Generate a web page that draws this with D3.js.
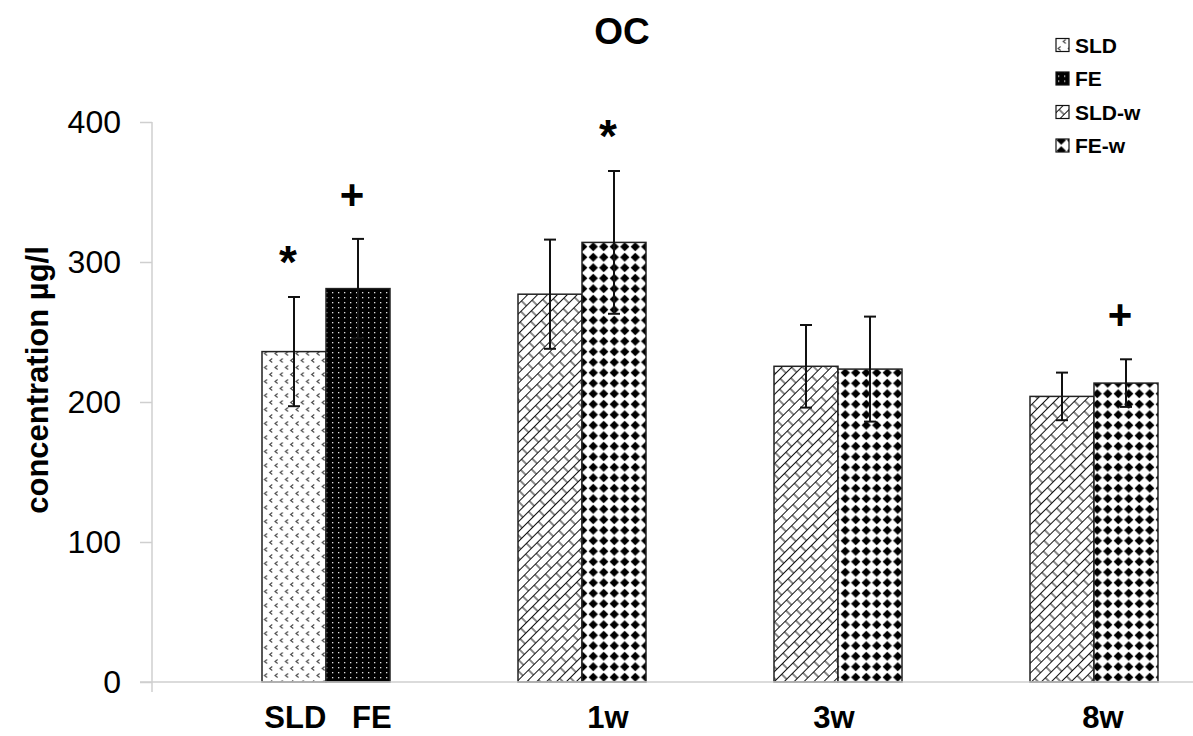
<!DOCTYPE html>
<html lang="en">
<head>
  <meta charset="UTF-8">
  <title>OC</title>
  <script src="https://d3js.org/d3.v7.min.js"></script>
  <style>
    body { margin: 0; background: #fff; }
    svg { display: block; font-family: "Liberation Sans", Arial, sans-serif; }
  </style>
</head>
<body>
  <svg width="1193" height="736"></svg>

  <script>
    const groups = ["SLD   FE", "1w", "3w", "8w"];
    const barSeries = [["SLD", "FE"], ["SLD-w", "FE-w"], ["SLD-w", "FE-w"], ["SLD-w", "FE-w"]];
    const meanLeft = [236, 277, 225.5, 204];
    const meanRight = [281, 314, 223.5, 213.5];
    const errLeft = [39, 39, 29.5, 17];
    const errRight = [35.5, 51, 37.5, 17];
    const legendItems = ["SLD", "FE", "SLD-w", "FE-w"];
    const yTicks = [0, 100, 200, 300, 400];
    // significance marks: group index, slot (0 left, 1 right), symbol
    const marks = [
      { group: 0, slot: 0, sym: "*" },
      { group: 0, slot: 1, sym: "+" },
      { group: 1, slot: 1, sym: "*" },
      { group: 3, slot: 1, sym: "+" }
    ];
    // small nudges of the category labels as placed in the original
    const labelShift = [2, 26, -4, 9];

    const svg = d3.select("svg");
    const defs = svg.append("defs");

    // patterns
    const pSLD = defs.append("pattern").attr("id", "p-SLD")
      .attr("patternUnits", "userSpaceOnUse").attr("width", 10.5).attr("height", 14);
    pSLD.append("rect").attr("width", 10.5).attr("height", 14).attr("fill", "#fff");
    [[3, 3.5], [8.2, 10.5]].forEach(([x, y]) => {
      pSLD.append("path").attr("d", `M${x + 1.6},${y - 2} L${x - 1},${y} L${x + 1.6},${y + 2}`)
        .attr("fill", "none").attr("stroke", "#444").attr("stroke-width", 1.1);
    });

    const pFE = defs.append("pattern").attr("id", "p-FE")
      .attr("patternUnits", "userSpaceOnUse").attr("width", 6).attr("height", 5);
    pFE.append("rect").attr("width", 6).attr("height", 5).attr("fill", "#000");
    pFE.append("rect").attr("x", 2).attr("y", 2).attr("width", 1.3).attr("height", 1.3).attr("fill", "#e0e0e0");

    const pSLDw = defs.append("pattern").attr("id", "p-SLD-w")
      .attr("patternUnits", "userSpaceOnUse").attr("width", 16).attr("height", 14)
      .attr("patternTransform", "rotate(-45)");
    pSLDw.append("rect").attr("width", 16).attr("height", 14).attr("fill", "#fff");
    pSLDw.append("path")
      .attr("d", "M0,0.5 H16 M0,7.5 H16 M4,0.5 V7.5 M12,7.5 V14.5")
      .attr("stroke", "#111").attr("stroke-width", 1).attr("fill", "none");

    const pFEw = defs.append("pattern").attr("id", "p-FE-w")
      .attr("patternUnits", "userSpaceOnUse").attr("width", 10.5).attr("height", 10.5);
    pFEw.append("rect").attr("width", 10.5).attr("height", 10.5).attr("fill", "#fff");
    pFEw.append("path").attr("d", "M5.25,0.6 L9.9,5.25 L5.25,9.9 L0.6,5.25 Z").attr("fill", "#000");

    const y = d3.scaleLinear().domain([0, 400]).range([682, 122]);
    const x = d3.scaleBand().domain(groups).range([198, 1222]).padding(0);
    const inner = d3.scaleBand().domain([0, 1])
      .range([x.bandwidth() / 2 - 64, x.bandwidth() / 2 + 64]);

    // y axis
    const yAxis = svg.append("g").attr("transform", "translate(152,0)")
      .call(d3.axisLeft(y).tickValues(yTicks).tickSize(12).tickPadding(19).tickSizeOuter(0));
    yAxis.select(".domain").remove();
    yAxis.selectAll(".tick line").attr("stroke", "#cfcfcf").attr("stroke-width", 1.5);
    yAxis.selectAll(".tick text").attr("font-size", 32).attr("fill", "#000")
      .attr("font-family", "Liberation Sans, Arial, sans-serif");
    svg.append("line").attr("x1", 152).attr("x2", 152)
      .attr("y1", y(400)).attr("y2", y(0) + 10)
      .attr("stroke", "#cfcfcf").attr("stroke-width", 1.5);

    // bars
    const bars = [];
    groups.forEach((g, i) => {
      bars.push({ g, slot: 0, s: barSeries[i][0], v: meanLeft[i], e: errLeft[i] });
      bars.push({ g, slot: 1, s: barSeries[i][1], v: meanRight[i], e: errRight[i] });
    });

    svg.append("g").selectAll("rect").data(bars).enter().append("rect")
      .attr("x", d => x(d.g) + inner(d.slot))
      .attr("y", d => y(d.v))
      .attr("width", inner.bandwidth())
      .attr("height", d => y(0) - y(d.v))
      .attr("fill", d => `url(#p-${d.s})`)
      .attr("stroke", "#222").attr("stroke-width", 1.5);

    // baseline
    svg.append("line").attr("x1", 140).attr("x2", 1193)
      .attr("y1", y(0)).attr("y2", y(0))
      .attr("stroke", "#cfcfcf").attr("stroke-width", 1.5);

    // error bars
    const eb = svg.append("g").attr("stroke", "#111").attr("stroke-width", 2);
    bars.forEach(d => {
      const cx = x(d.g) + inner(d.slot) + inner.bandwidth() / 2;
      eb.append("line").attr("x1", cx).attr("x2", cx).attr("y1", y(d.v + d.e)).attr("y2", y(d.v - d.e));
      eb.append("line").attr("x1", cx - 6).attr("x2", cx + 6).attr("y1", y(d.v + d.e)).attr("y2", y(d.v + d.e));
      eb.append("line").attr("x1", cx - 6).attr("x2", cx + 6).attr("y1", y(d.v - d.e)).attr("y2", y(d.v - d.e));
    });

    // significance marks
    svg.append("g").selectAll("text").data(marks).enter().append("text")
      .attr("x", d => x(groups[d.group]) + inner(d.slot) + inner.bandwidth() / 2 - 6)
      .attr("y", d => {
        const top = d.slot === 0 ? meanLeft[d.group] + errLeft[d.group] : meanRight[d.group] + errRight[d.group];
        return y(top) - 46 + (d.sym === "*" ? 27 : 16);
      })
      .attr("text-anchor", "middle")
      .attr("font-size", d => d.sym === "*" ? 46 : 42).attr("font-weight", "bold")
      .text(d => d.sym);

    // category labels
    svg.append("g").selectAll("text").data(groups).enter().append("text")
      .attr("x", (d, i) => x(d) + x.bandwidth() / 2 + labelShift[i])
      .attr("y", 728)
      .attr("text-anchor", "middle")
      .attr("font-size", 31).attr("font-weight", "bold")
      .style("white-space", "pre")
      .text(d => d);

    // title
    svg.append("text").attr("x", 622).attr("y", 44)
      .attr("text-anchor", "middle").attr("font-size", 37).attr("font-weight", "bold")
      .text("OC");

    // y title
    svg.append("text")
      .attr("transform", "translate(48,380) rotate(-90)")
      .attr("text-anchor", "middle").attr("font-size", 31).attr("font-weight", "bold")
      .text("concentration µg/l");

    // legend
    const legend = svg.append("g").selectAll("g").data(legendItems).enter().append("g")
      .attr("transform", (d, i) => `translate(1056,${45 + i * 33.5})`);
    legend.append("rect").attr("x", 0).attr("y", -6.5).attr("width", 13).attr("height", 13)
      .attr("fill", d => `url(#p-${d})`).attr("stroke", "#111").attr("stroke-width", 1.2);
    legend.append("text").attr("x", 19).attr("y", 7.5)
      .attr("font-size", 21).attr("font-weight", "bold")
      .text(d => d);
  </script>
</body>
</html>
